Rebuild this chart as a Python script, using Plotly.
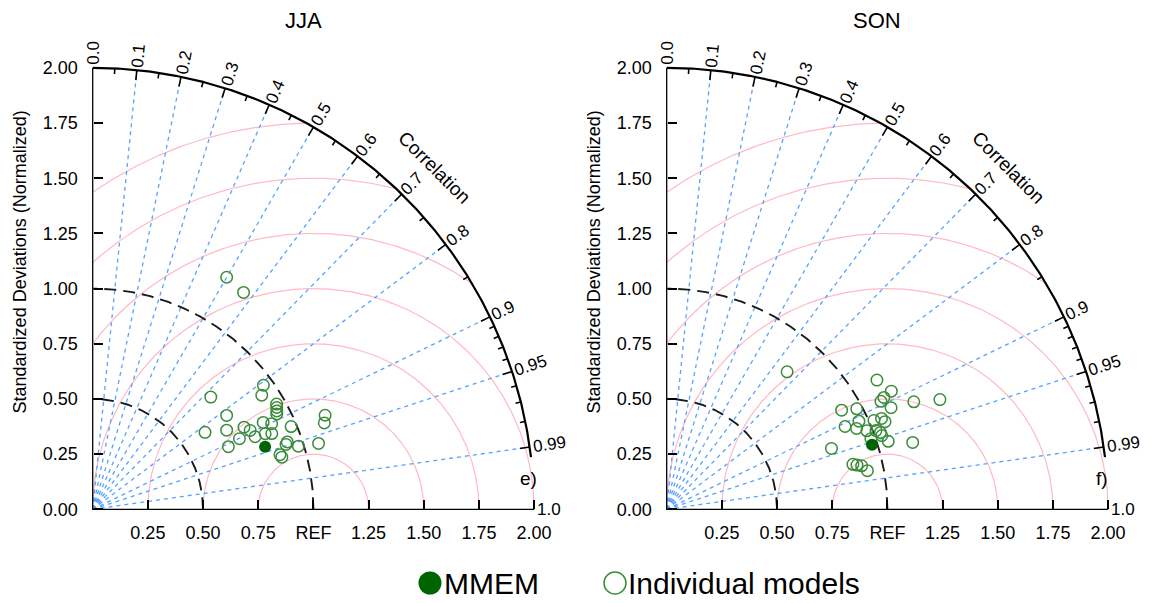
import numpy as np
import plotly.graph_objects as go

# ---------------- data ----------------
panel_titles = ["JJA", "SON"]
panel_tags = ["e)", "f)"]

# JJA individual models (normalized std, correlation)
jja_models_std = [1.214, 1.197, 0.956, 0.924, 0.738, 0.960, 0.953, 0.946, 0.939, 0.741,
                  1.136, 1.120, 0.867, 0.899, 0.780, 0.705, 0.798, 0.974, 0.617, 0.806,
                  0.853, 0.881, 0.738, 0.933, 0.924, 0.975, 1.066, 0.677, 0.884, 0.889]
jja_models_corr = [0.500, 0.571, 0.809, 0.829, 0.725, 0.868, 0.875, 0.882, 0.888, 0.819,
                   0.927, 0.937, 0.891, 0.902, 0.879, 0.861, 0.894, 0.923, 0.825, 0.913,
                   0.916, 0.921, 0.901, 0.945, 0.948, 0.956, 0.960, 0.908, 0.960, 0.964]
jja_mmem_std = [0.831]
jja_mmem_corr = [0.940]

# SON individual models
son_models_std = [0.828, 1.118, 1.150, 1.107, 1.087, 1.221, 1.334, 0.911, 0.974, 1.116,
                  0.891, 0.935, 0.958, 1.022, 1.057, 1.066, 0.974, 1.013, 1.029, 0.979,
                  1.030, 1.050, 1.155, 0.796, 0.868, 0.885, 0.905, 0.926]
son_models_corr = [0.659, 0.852, 0.885, 0.889, 0.893, 0.917, 0.928, 0.870, 0.884, 0.911,
                   0.907, 0.920, 0.909, 0.919, 0.921, 0.928, 0.931, 0.936, 0.941, 0.945,
                   0.946, 0.956, 0.965, 0.938, 0.972, 0.974, 0.976, 0.982]
son_mmem_std = [0.975]
son_mmem_corr = [0.954]

corr_major = [0.0, 0.1, 0.2, 0.3, 0.4, 0.5, 0.6, 0.7, 0.8, 0.9, 0.95, 0.99, 1.0]
corr_major_labels = ["0.0", "0.1", "0.2", "0.3", "0.4", "0.5", "0.6", "0.7", "0.8",
                     "0.9", "0.95", "0.99", "1.0"]
corr_minor = [0.05, 0.15, 0.25, 0.35, 0.45, 0.55, 0.65, 0.75, 0.85,
              0.91, 0.92, 0.93, 0.94, 0.96, 0.97, 0.98]
std_ticks = [0.0, 0.25, 0.5, 0.75, 1.0, 1.25, 1.5, 1.75, 2.0]
std_tick_labels = ["0.00", "0.25", "0.50", "0.75", "1.00", "1.25", "1.50", "1.75", "2.00"]
x_ticks = [0.25, 0.5, 0.75, 1.0, 1.25, 1.5, 1.75, 2.0]
x_tick_labels = ["0.25", "0.50", "0.75", "REF", "1.25", "1.50", "1.75", "2.00"]
rms_radii = [0.25, 0.5, 0.75, 1.0, 1.25, 1.5, 1.75]
std_ref_circles = [0.5, 1.0]
legend_labels = ["MMEM", "Individual models"]

# ---------------- geometry / style ----------------
W, H = 1154, 603
PAGE_OFF = 8                   # default body margin of the html page
U = 220.7                      # pixels per data unit
ORIG = [(92.7 - PAGE_OFF, 509.3 - PAGE_OFF), (666.7 - PAGE_OFF, 509.3 - PAGE_OFF)]
RNG_X = [-0.38, 2.2]
RNG_Y = [-0.2, 2.25]
RMAX = 2.0
ARC_END_CORR = 0.993
FONT = "Liberation Sans, Arial, Helvetica, sans-serif"
GREEN_OPEN = "#3a8c3a"
GREEN_FILL = "#006400"
BLUE = "#55a3ff"
PINK = "#ffb9c6"


def em_width(s):
    w = 0.0
    for ch in s:
        if ch.isdigit():
            w += 0.556
        elif ch == ".":
            w += 0.278
        else:
            w += 0.6
    return w


fig = go.Figure()
annotations = []

panels = [
    (jja_models_std, jja_models_corr, jja_mmem_std, jja_mmem_corr),
    (son_models_std, son_models_corr, son_mmem_std, son_mmem_corr),
]

for i, (mstd, mcor, estd, ecor) in enumerate(panels):
    xa = "x" if i == 0 else "x2"
    ya = "y" if i == 0 else "y2"

    # RMS difference arcs centred at REF
    phi = np.linspace(0, np.pi, 721)
    for r in rms_radii:
        x = 1.0 + r * np.cos(phi)
        y = r * np.sin(phi)
        ok = (x >= 0) & (np.hypot(x, y) <= RMAX + 1e-9)
        fig.add_trace(go.Scatter(x=np.where(ok, x, np.nan), y=np.where(ok, y, np.nan),
                                 mode="lines", xaxis=xa, yaxis=ya,
                                 line=dict(color=PINK, width=1.2), hoverinfo="skip",
                                 showlegend=False, connectgaps=False))

    # correlation rays
    for c in corr_major:
        if c in (0.0, 1.0):
            continue
        s = np.sqrt(1 - c * c)
        fig.add_trace(go.Scatter(x=[0, RMAX * c], y=[0, RMAX * s], mode="lines",
                                 xaxis=xa, yaxis=ya,
                                 line=dict(color=BLUE, width=1.3, dash="4px,4px"),
                                 hoverinfo="skip", showlegend=False))

    # dashed std circles
    th = np.linspace(0, np.pi / 2, 300)
    for r in std_ref_circles:
        fig.add_trace(go.Scatter(x=r * np.cos(th), y=r * np.sin(th), mode="lines",
                                 xaxis=xa, yaxis=ya,
                                 line=dict(color="#1a1a1a", width=1.9, dash="12px,7px"),
                                 hoverinfo="skip", showlegend=False))

    # axis lines
    fig.add_trace(go.Scatter(x=[0, 0, RMAX], y=[RMAX, 0, 0], mode="lines",
                             xaxis=xa, yaxis=ya, line=dict(color="black", width=1.3),
                             hoverinfo="skip", showlegend=False))
    # outer arc (stops just below correlation 0.99)
    tha = np.linspace(np.arccos(ARC_END_CORR), np.pi / 2, 300)
    fig.add_trace(go.Scatter(x=RMAX * np.cos(tha), y=RMAX * np.sin(tha), mode="lines",
                             xaxis=xa, yaxis=ya, line=dict(color="black", width=2.2),
                             hoverinfo="skip", showlegend=False))

    # correlation ticks on the arc (inward)
    tx, ty = [], []
    for c in corr_major[1:-1]:
        a = np.arccos(c)
        r0 = RMAX - 10 / U
        tx += [RMAX * np.cos(a), r0 * np.cos(a), None]
        ty += [RMAX * np.sin(a), r0 * np.sin(a), None]
    for c in corr_minor:
        a = np.arccos(c)
        r0 = RMAX - 5.5 / U
        tx += [RMAX * np.cos(a), r0 * np.cos(a), None]
        ty += [RMAX * np.sin(a), r0 * np.sin(a), None]
    fig.add_trace(go.Scatter(x=tx, y=ty, mode="lines", xaxis=xa, yaxis=ya,
                             line=dict(color="black", width=1.6),
                             hoverinfo="skip", showlegend=False))

    # models
    mstd = np.array(mstd); mcor = np.array(mcor)
    fig.add_trace(go.Scatter(x=mstd * mcor, y=mstd * np.sqrt(1 - mcor ** 2),
                             mode="markers", xaxis=xa, yaxis=ya, showlegend=False,
                             marker=dict(symbol="circle-open", size=11.5, color=GREEN_OPEN,
                                         line=dict(width=1.5, color=GREEN_OPEN))))
    estd = np.array(estd); ecor = np.array(ecor)
    fig.add_trace(go.Scatter(x=estd * ecor, y=estd * np.sqrt(1 - ecor ** 2),
                             mode="markers", xaxis=xa, yaxis=ya, showlegend=False,
                             marker=dict(symbol="circle", size=12, color=GREEN_FILL)))

    # correlation labels
    fs = 17
    for c, lab in zip(corr_major, corr_major_labels):
        a = np.arccos(c)
        w = em_width(lab) * fs
        r = RMAX + (3 + w / 2) / U
        annotations.append(dict(text=lab, x=r * np.cos(a), y=r * np.sin(a),
                                xref=xa, yref=ya, showarrow=False,
                                textangle=-np.degrees(a),
                                font=dict(size=fs, family=FONT, color="black"),
                                xanchor="center", yanchor="middle"))
    annotations.append(dict(text="Correlation", x=2.19 * np.cos(np.pi / 4),
                            y=2.19 * np.sin(np.pi / 4), xref=xa, yref=ya,
                            showarrow=False, textangle=45,
                            font=dict(size=19, family=FONT, color="black")))
    annotations.append(dict(text=panel_titles[i], x=0.953, y=2.213, xref=xa, yref=ya,
                            showarrow=False, font=dict(size=22, family=FONT, color="black")))
    annotations.append(dict(text=panel_tags[i], x=1.974, y=0.139, xref=xa, yref=ya,
                            showarrow=False, font=dict(size=19, family=FONT, color="black")))
    annotations.append(dict(text="Standardized Deviations (Normalized)", x=-0.329, y=1.119,
                            xref=xa, yref=ya, showarrow=False, textangle=-90,
                            font=dict(size=18, family=FONT, color="black")))

# legend (overlay axis in pixel units)
LEG_Y = 583 - PAGE_OFF
fig.add_trace(go.Scatter(x=[430 - PAGE_OFF], y=[LEG_Y], mode="markers", xaxis="x3", yaxis="y3",
                         showlegend=False, hoverinfo="skip",
                         marker=dict(symbol="circle", size=23, color=GREEN_FILL)))
fig.add_trace(go.Scatter(x=[615 - PAGE_OFF], y=[LEG_Y], mode="markers", xaxis="x3", yaxis="y3",
                         showlegend=False, hoverinfo="skip",
                         marker=dict(symbol="circle-open", size=22, color=GREEN_OPEN,
                                     line=dict(width=1.5, color=GREEN_OPEN))))
annotations.append(dict(text=legend_labels[0], x=442 - PAGE_OFF, y=LEG_Y, xref="x3", yref="y3",
                        xanchor="left", yanchor="middle", showarrow=False,
                        font=dict(size=30, family=FONT, color="black")))
annotations.append(dict(text=legend_labels[1], x=626 - PAGE_OFF, y=LEG_Y, xref="x3", yref="y3",
                        xanchor="left", yanchor="middle", showarrow=False,
                        font=dict(size=30, family=FONT, color="black")))


def xdom(ox):
    return [(ox + RNG_X[0] * U) / W, (ox + RNG_X[1] * U) / W]


oy = ORIG[0][1]
ydom = [(H - (oy - RNG_Y[0] * U)) / H, (H - (oy - RNG_Y[1] * U)) / H]
xaxis_pos = (H - oy) / H

tickfont = dict(size=18, family=FONT, color="black")


def make_x(ox):
    return dict(domain=xdom(ox), range=RNG_X, anchor="free", position=xaxis_pos,
                tickmode="array", tickvals=x_ticks, ticktext=x_tick_labels,
                ticks="inside", ticklen=9, tickwidth=1.5, tickcolor="black",
                showgrid=False, zeroline=False, showline=False, tickfont=tickfont,
                ticklabelstandoff=11, fixedrange=True)


def make_y(ox):
    return dict(domain=ydom, range=RNG_Y, anchor="free", position=ox / W,
                tickmode="array", tickvals=std_ticks, ticktext=std_tick_labels,
                ticks="inside", ticklen=9, tickwidth=1.5, tickcolor="black",
                showgrid=False, zeroline=False, showline=False, tickfont=tickfont,
                ticklabelstandoff=15, fixedrange=True)


fig.update_layout(
    width=W, height=H, autosize=False,
    margin=dict(l=0, r=0, t=0, b=0),
    paper_bgcolor="white", plot_bgcolor="rgba(0,0,0,0)",
    showlegend=False,
    xaxis=make_x(ORIG[0][0]), yaxis=make_y(ORIG[0][0]),
    xaxis2=make_x(ORIG[1][0]), yaxis2=make_y(ORIG[1][0]),
    xaxis3=dict(domain=[0, 1], range=[0, W], visible=False, anchor="y3", fixedrange=True),
    yaxis3=dict(domain=[0, 1], range=[H, 0], visible=False, anchor="x3", fixedrange=True),
    annotations=annotations,
    font=dict(family=FONT),
)

fig.write_html("out.html")
